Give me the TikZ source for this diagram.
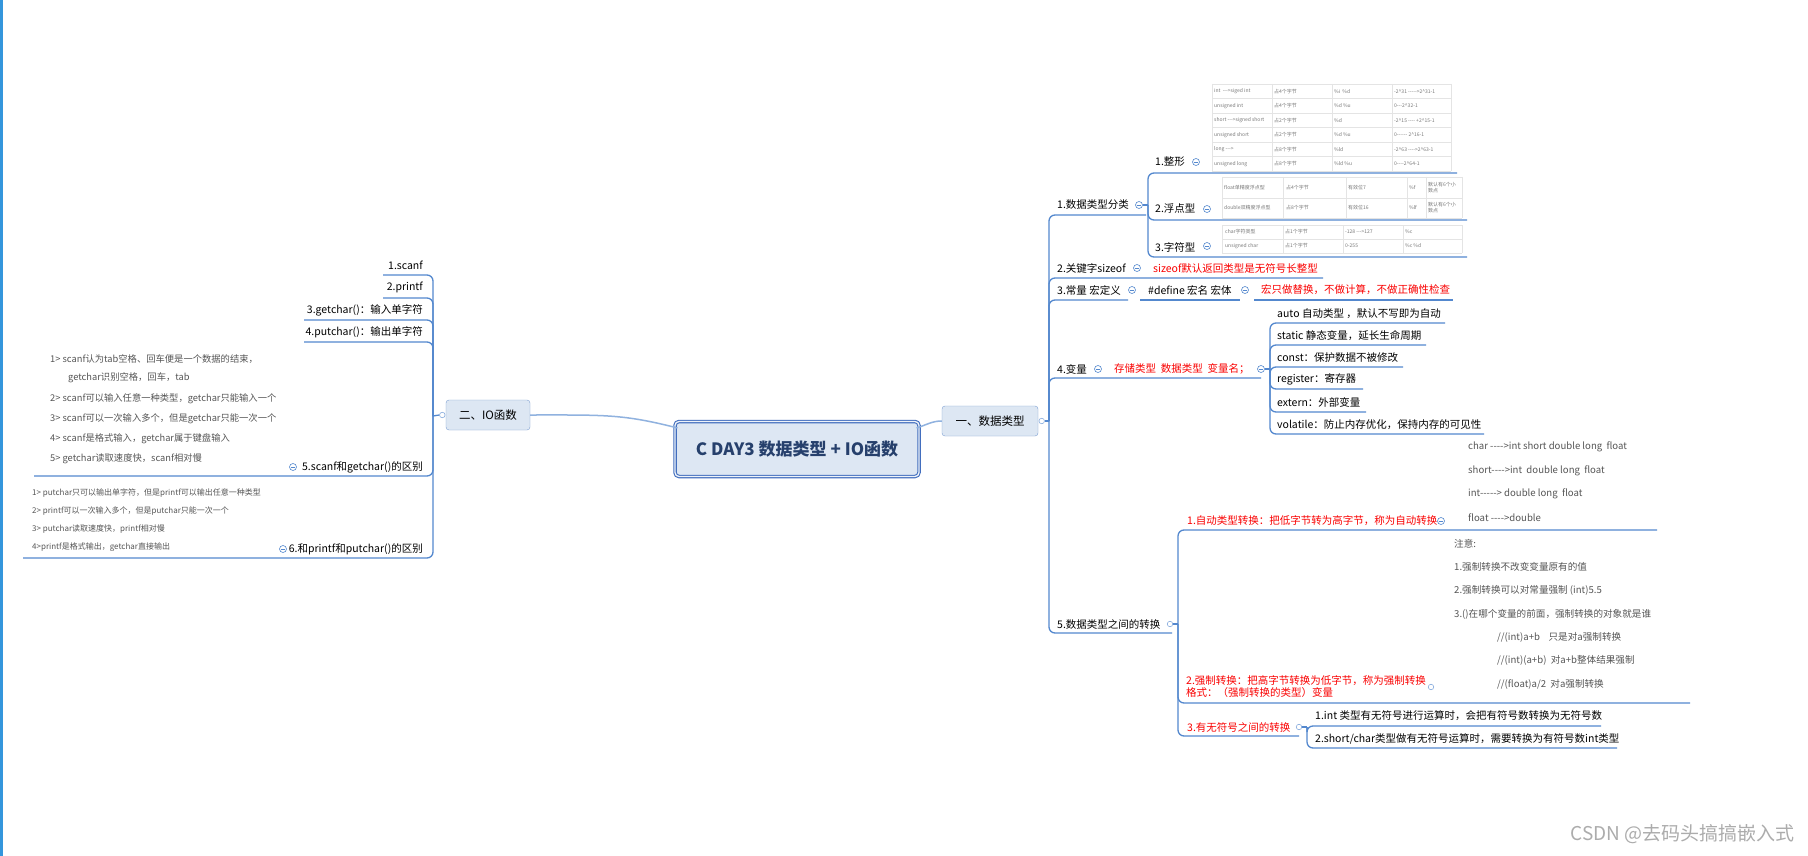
\documentclass[tikz,border=0pt]{standalone}
\usepackage{fontspec}
\setmainfont{Noto Sans CJK SC}[Ligatures=TeXOff]
\usetikzlibrary{positioning,calc}
\definecolor{lineblue}{RGB}{84,136,206}
\definecolor{rootblue}{RGB}{66,110,190}
\definecolor{roottext}{RGB}{38,64,108}
\definecolor{boxfill}{RGB}{221,231,243}
\definecolor{boxdraw}{RGB}{126,160,210}
\definecolor{xred}{RGB}{250,0,0}
\definecolor{notegray}{RGB}{85,85,85}
\definecolor{cellgray}{RGB}{120,120,120}
\definecolor{gridgray}{RGB}{228,228,228}
\definecolor{barblue}{RGB}{52,150,220}
\newcommand{\caret}{\char94\relax}
\newcommand{\foldpt}[2]{%
  \node[fold] (#1) at #2 {};
  \draw[lineblue, line width=0.6pt] ($(#1)+(-1.7,0)$) -- ($(#1)+(1.7,0)$);
}
\tikzset{
  topic/.style={anchor=west, inner sep=0pt, font=\fontsize{10.5}{12}\selectfont},
  redtopic/.style={topic, text=xred},
  ltopic/.style={topic, anchor=east},
  note/.style={anchor=west, inner sep=0pt, text=notegray, font=\fontsize{9.6}{11}\selectfont},
  smallnote/.style={note, font=\fontsize{8}{9}\selectfont},
  cell/.style={anchor=west, inner sep=0pt, text=cellgray, align=left, font=\fontsize{5}{6}\selectfont},
  gridline/.style={draw=gridgray, line width=0.5pt},
  branch/.style={draw=lineblue, line width=1.3pt, rounded corners=6pt},
  rootline/.style={draw=lineblue!65, line width=1.5pt},
  fold/.style={circle, draw=lineblue, fill=white, line width=0.6pt, minimum size=7pt, inner sep=0pt},
  knob/.style={circle, draw=lineblue!70, fill=white, line width=0.6pt, minimum size=5.5pt, inner sep=0pt},
  rootbox/.style={draw=rootblue, line width=1.1pt, double=boxfill!50, double distance=1.3pt,
    fill=boxfill, rounded corners=4pt, minimum width=244pt, minimum height=55pt,
    text=roottext, font=\fontsize{17}{20}\selectfont\bfseries},
  mainbox/.style={draw=boxdraw, fill=boxfill, rounded corners=3pt, minimum height=30pt,
    inner sep=0pt, font=\fontsize{11.5}{13}\selectfont}
}

\begin{document}
\begin{tikzpicture}[x=1pt, y=-1pt]
  \useasboundingbox (0,0) rectangle (1808,856);
  \fill[white] (0,0) rectangle (1808,856);
  \fill[barblue] (0,0) rectangle (2.5,856);

  % centre
  \node[rootbox] (root) at (797,449) {C DAY3 数据类型 + IO函数};
  \node[mainbox, minimum width=96pt] (tA) at (990,421) {一、数据类型};
  \node[mainbox, minimum width=84pt] (tB) at (488,415) {二、IO函数};
  \draw[rootline] ($(root.north west)+(3,7)$) .. controls +(-55,-14) and +(75,0) .. (tB.east);
  \draw[rootline] ($(root.north east)+(-3,7)$) .. controls +(10,-3) and +(-10,0) .. (tA.west);
  \node[knob] (fA) at ($(tA.east)+(3.5,0)$) {};
  \node[knob] (fB) at ($(tB.west)+(-3.5,0)$) {};

  % right side: branches
  \coordinate (sA) at (1049,421);
  \draw[branch] (fA.east) -- (sA);
  \foreach \y/\e in {215/1146, 278/1323, 300/1128, 378/1261, 633/1172}
    \draw[branch] (sA) |- (\e,\y);

  \node[topic] (d1) at (1057,205) {1.数据类型分类};
  \foldpt{f1}{(1139,205)}
  \coordinate (s1) at (1148,205);
  \draw[branch] (f1.east) -- (s1);
  \foreach \y/\e in {173/1457, 220/1467, 257/1467}
    \draw[branch] (s1) |- (\e,\y);
  \node[topic] (d11) at (1155,162) {1.整形};
  \node[topic] (d12) at (1155,209) {2.浮点型};
  \node[topic] (d13) at (1155,247) {3.字符型};
  \foldpt{f11}{(1196,162)}
  \foldpt{f12}{(1207,209)}
  \foldpt{f13}{(1207,246)}

  % tables
  \foreach \y in {84,98.5,113,127.5,142,156.5,171}
    \draw[gridline] (1212,\y) -- (1451,\y);
  \foreach \x in {1212,1272,1332,1392,1451}
    \draw[gridline] (\x,84) -- (\x,171);
  \foreach \ca/\cb/\cc/\cd [count=\i] in {
      {int\ \ --->siged int}/占4个字节/\%i\ \ \%d/-2\caret31 ----->2\caret31-1,
      unsigned int/占4个字节/\%d \%u/0---2\caret32-1,
      short --->signed short/占2个字节/\%d/-2\caret15 ---- +2\caret15-1,
      unsigned short/占2个字节/\%d \%u/0------ 2\caret16-1,
      long --->/占8个字节/\%ld/-2\caret63 ---->2\caret63-1,
      unsigned long/占8个字节/\%ld \%u/0----2\caret64-1}{
    \node[cell] (intA\i) at (1214,76.75+14.5*\i) {\ca};
    \node[cell] (intB\i) at (1274,76.75+14.5*\i) {\cb};
    \node[cell] (intC\i) at (1334,76.75+14.5*\i) {\cc};
    \node[cell] (intD\i) at (1394,76.75+14.5*\i) {\cd};
  }
  \foreach \y in {177,198,218}
    \draw[gridline] (1222,\y) -- (1462,\y);
  \foreach \x in {1222,1283,1346,1407,1426,1462}
    \draw[gridline] (\x,177) -- (\x,218);
  \foreach \ca/\cb/\cc/\cd [count=\i] in {
      float单精度浮点型/占4个字节/有效位7/\%f,
      double双精度浮点型/占8个字节/有效位16/\%lf}{
    \node[cell] (fltA\i) at (1224,167+20.5*\i) {\ca};
    \node[cell] (fltB\i) at (1286,167+20.5*\i) {\cb};
    \node[cell] (fltC\i) at (1348,167+20.5*\i) {\cc};
    \node[cell] (fltD\i) at (1409,167+20.5*\i) {\cd};
    \node[cell] (fltE\i) at (1428,167+20.5*\i) {默认有6个小\\数点};
  }
  \foreach \y in {225,239,253}
    \draw[gridline] (1222,\y) -- (1462,\y);
  \foreach \x in {1222,1283,1343,1403,1462}
    \draw[gridline] (\x,225) -- (\x,253);
  \foreach \ca/\cb/\cc/\cd [count=\i] in {
      char字符类型/占1个字节/-128 --->127/\%c,
      unsigned char/占1个字节/0-255/\%c \%d}{
    \node[cell] (chrA\i) at (1225,218+14*\i) {\ca};
    \node[cell] (chrB\i) at (1285,218+14*\i) {\cb};
    \node[cell] (chrC\i) at (1345,218+14*\i) {\cc};
    \node[cell] (chrD\i) at (1405,218+14*\i) {\cd};
  }

  \node[topic] (d2) at (1057,268) {2.关键字sizeof};
  \foldpt{f2}{(1137,268)}
  \node[redtopic] (d21) at (1153,268) {sizeof默认返回类型是无符号长整型};

  \node[topic] (d3) at (1057,290) {3.常量 宏定义};
  \foldpt{f3}{(1132,290)}
  \node[topic] (d31) at (1148,290) {\#define 宏名 宏体};
  \foldpt{f3b}{(1245,290)}
  \node[redtopic] (d32) at (1261,290) {宏只做替换，不做计算，不做正确性检查};
  \draw[branch] (1140,300) -- (1240,300);
  \draw[branch] (1254,300) -- (1453,300);

  \node[topic] (d4) at (1057,369) {4.变量};
  \foldpt{f4}{(1098,369)}
  \node[redtopic] (d41) at (1114,369) {存储类型\ \ 数据类型\ \ 变量名；};
  \foldpt{f4b}{(1261,369)}
  \coordinate (s4) at (1270,369);
  \draw[branch] (f4b.east) -- (s4);
  \foreach \y/\e in {323/1445, 345/1426, 367/1403, 389/1363, 412/1366, 434/1484}
    \draw[branch] (s4) |- (\e,\y);
  \foreach \t [count=\i] in {auto 自动类型 ，默认不写即为自动, static 静态变量，延长生命周期,
      const：保护数据不被修改, register：寄存器, extern：外部变量,
      volatile：防止内存优化，保持内存的可见性}
    \node[topic] (v\i) at (1277,291+22.2*\i) {\t};

  \node[topic] (d5) at (1057,624) {5.数据类型之间的转换};
  \node[knob] (f5) at (1170,624) {};
  \coordinate (s5) at (1178,624);
  \draw[branch] (f5.east) -- (s5);
  \foreach \y/\e in {530/1657, 703/1690, 736/1299}
    \draw[branch] (s5) |- (\e,\y);
  \node[redtopic] (d51) at (1187,521) {1.自动类型转换：把低字节转为高字节，称为自动转换};
  \foldpt{f51}{(1441,521)}
  \foreach \t [count=\i] in {char ---->int short double long\ \ float, short---->int\ \ double long\ \ float,
      int-----> double long\ \ float, float ---->double}
    \node[note] (au\i) at (1468,423.5+23.5*\i) {\t};

  \node[redtopic, align=left] (d52) at (1186,687) {2.强制转换：把高字节转换为低字节，称为强制转换\\格式：（强制转换的类型）变量};
  \node[knob] (f52) at (1431,687) {};
  \foreach \t [count=\i] in {注意:, 1.强制转换不改变变量原有的值, 2.强制转换可以对常量强制 (int)5.5,
      3.()在哪个变量的前面，强制转换的对象就是谁}
    \node[note] (nt\i) at (1454,520.7+23.3*\i) {\t};
  \foreach \t [count=\i] in {//(int)a+b\ \ \ \ 只是对a强制转换, //(int)(a+b)\ \ 对a+b整体结果强制,
      //(float)a/2\ \ 对a强制转换}
    \node[note] (nx\i) at (1497,613.7+23.5*\i) {\t};

  \node[redtopic] (d53) at (1187,727) {3.有无符号之间的转换};
  \node[knob] (f53) at (1299,727) {};
  \coordinate (s53) at (1307,727);
  \draw[branch] (f53.east) -- (s53);
  \foreach \y/\e in {726/1601, 748/1617}
    \draw[branch] (s53) |- (\e,\y);
  \node[topic] (d531) at (1315,716) {1.int 类型有无符号进行运算时，会把有符号数转换为无符号数};
  \node[topic] (d532) at (1315,739) {2.short/char类型做有无符号运算时，需要转换为有符号数int类型};

  % left side
  \coordinate (sB) at (433,416);
  \draw[branch] (fB.west) -- (sB);
  \foreach \y/\e in {275/383, 298/383, 320/304, 342/304, 476/34, 558/23}
    \draw[branch] (sB) |- (\e,\y);
  \node[ltopic] (io1) at (423,265) {1.scanf};
  \node[ltopic] (io2) at (423,287) {2.printf};
  \node[ltopic] (io3) at (423,310) {3.getchar()：输入单字符};
  \node[ltopic] (io4) at (423,332) {4.putchar()：输出单字符};
  \node[ltopic] (io5) at (423,467) {5.scanf和getchar()的区别};
  \foldpt{fL5}{(293,467)}
  \node[ltopic] (io6) at (423,549) {6.和printf和putchar()的区别};
  \foldpt{fL6}{(283,549)}

  \node[note, font=\fontsize{9.3}{11}\selectfont] (sg0) at (68,378) {getchar识别空格，回车，tab};
  \foreach \t/\y [count=\i] in {1> scanf认为tab空格、回车便是一个数据的结束，/359,
      2> scanf可以输入任意一种类型，getchar只能输入一个/399,
      3> scanf可以一次输入多个，但是getchar只能一次一个/419,
      4> scanf是格式输入，getchar属于键盘输入/439,
      5> getchar读取速度快，scanf相对慢/459}
    \node[note, font=\fontsize{9.3}{11}\selectfont] (sg\i) at (50,\y) {\t};
  \foreach \t [count=\i] in {1> putchar只可以输出单字符，但是printf可以输出任意一种类型,
      2> printf可以一次输入多个，但是putchar只能一次一个,
      3> putchar读取速度快，printf相对慢, 4>printf是格式输出，getchar直接输出}
    \node[smallnote] (pp\i) at (32,475+18*\i) {\t};

  \node[anchor=east, inner sep=0pt, text=gray!65, font=\fontsize{19}{21}\selectfont] (mark) at (1795,834) {CSDN @去码头搞搞嵌入式};
\end{tikzpicture}
\end{document}
